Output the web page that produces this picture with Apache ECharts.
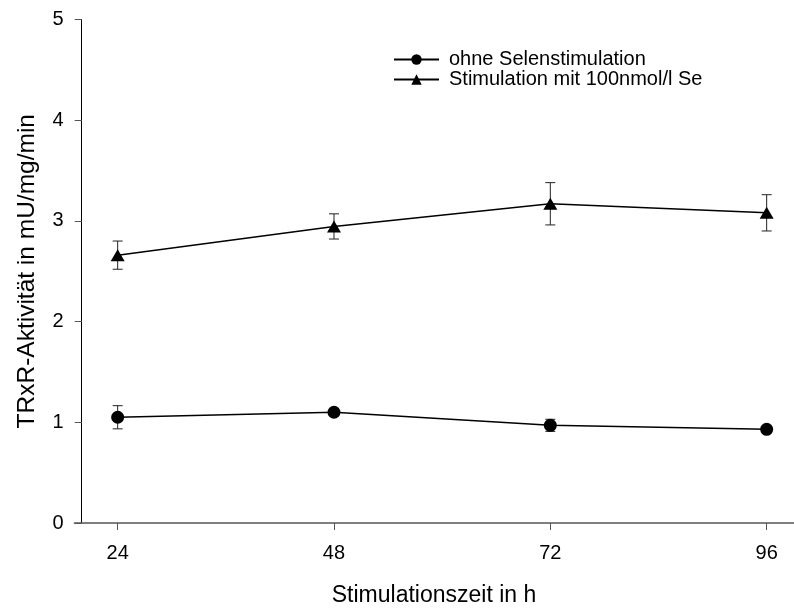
<!DOCTYPE html>
<html>
<head>
<meta charset="utf-8">
<script src="https://cdn.jsdelivr.net/npm/echarts@6/dist/echarts.min.js"></script>
<style>html,body{margin:0;padding:0;background:#fff;}#c{width:794px;height:612px;}</style>
</head>
<body>
<div id="c"></div>
<script>
var times = [24, 48, 72, 96];
var xTicks = [24, 48, 72, 96];
var ohneSelen = [1.05, 1.10, 0.97, 0.93];
var ohneSelenErr = [0.115, 0.035, 0.06, 0.02];
var mitSelen = [2.66, 2.945, 3.17, 3.08];
var mitSelenErr = [0.14, 0.125, 0.21, 0.18];
var seriesNames = ['ohne Selenstimulation', 'Stimulation mit 100nmol/l Se'];

var FONT = "'Liberation Sans', Arial, sans-serif";

function pairs(xs, ys) { return xs.map(function (x, i) { return [x, ys[i]]; }); }
function errData(xs, ys, es) { return xs.map(function (x, i) { return [x, ys[i] - es[i], ys[i] + es[i]]; }); }

function errRender(params, api) {
  var x = api.value(0);
  var lo = api.coord([x, api.value(1)]);
  var hi = api.coord([x, api.value(2)]);
  var hw = 5;
  var st = { stroke: '#222', lineWidth: 1, fill: null };
  return {
    type: 'group',
    children: [
      { type: 'line', shape: { x1: lo[0], y1: lo[1], x2: hi[0], y2: hi[1] }, style: st },
      { type: 'line', shape: { x1: lo[0] - hw, y1: lo[1], x2: lo[0] + hw, y2: lo[1] }, style: st },
      { type: 'line', shape: { x1: hi[0] - hw, y1: hi[1], x2: hi[0] + hw, y2: hi[1] }, style: st }
    ]
  };
}

var chart = echarts.init(document.getElementById('c'), null, { renderer: 'canvas' });
chart.setOption({
  backgroundColor: '#fff',
  animation: false,
  textStyle: { fontFamily: FONT, color: '#000' },
  grid: { left: 74.4, right: 0.3, top: 19.5, bottom: 88, containLabel: false },
  legend: {
    orient: 'vertical',
    left: 393,
    top: 49.5,
    padding: 0,
    itemWidth: 45,
    itemHeight: 13,
    itemGap: 0,
    data: seriesNames,
    textStyle: { fontFamily: FONT, fontSize: 20, lineHeight: 20, color: '#000', padding: [0, 0, 0, 5] }
  },
  xAxis: {
    type: 'value',
    min: 19.2,
    max: 99,
    name: 'Stimulationszeit in h',
    nameLocation: 'middle',
    nameGap: 61,
    nameTextStyle: { fontFamily: FONT, fontSize: 23, color: '#000' },
    axisLine: { show: true, lineStyle: { color: '#555', width: 1.5 } },
    axisTick: { show: true, length: 7, inside: false, customValues: xTicks, lineStyle: { color: '#555', width: 1 } },
    axisLabel: { show: true, customValues: xTicks, margin: 20, fontSize: 20, color: '#000', fontFamily: FONT },
    splitLine: { show: false }
  },
  yAxis: {
    type: 'value',
    min: 0,
    max: 5,
    interval: 1,
    offset: -7.3,
    name: 'TRxR-Aktivität in mU/mg/min',
    nameLocation: 'middle',
    nameGap: 42,
    nameTextStyle: { fontFamily: FONT, fontSize: 24.5, color: '#000' },
    axisLine: { show: true, lineStyle: { color: '#000', width: 1 } },
    axisTick: { show: true, length: 7, inside: false, lineStyle: { color: '#555', width: 1 } },
    axisLabel: { show: true, margin: 18, fontSize: 20, color: '#000', fontFamily: FONT },
    splitLine: { show: false }
  },
  series: [
    {
      name: seriesNames[0] + ' err',
      type: 'custom',
      renderItem: errRender,
      data: errData(times, ohneSelen, ohneSelenErr),
      encode: { x: 0, y: [1, 2] },
      z: 1, silent: true
    },
    {
      name: seriesNames[1] + ' err',
      type: 'custom',
      renderItem: errRender,
      data: errData(times, mitSelen, mitSelenErr),
      encode: { x: 0, y: [1, 2] },
      z: 1, silent: true
    },
    {
      name: seriesNames[0],
      type: 'line',
      data: pairs(times, ohneSelen),
      symbol: 'circle',
      symbolSize: 13,
      showAllSymbol: true,
      lineStyle: { color: '#000', width: 1.5 },
      itemStyle: { color: '#000', borderWidth: 0 },
      z: 3
    },
    {
      name: seriesNames[1],
      type: 'line',
      data: pairs(times, mitSelen),
      symbol: 'triangle',
      symbolSize: [14, 12],
      showAllSymbol: true,
      lineStyle: { color: '#000', width: 1.5 },
      itemStyle: { color: '#000', borderWidth: 0 },
      z: 3
    }
  ]
});
</script>
</body>
</html>
